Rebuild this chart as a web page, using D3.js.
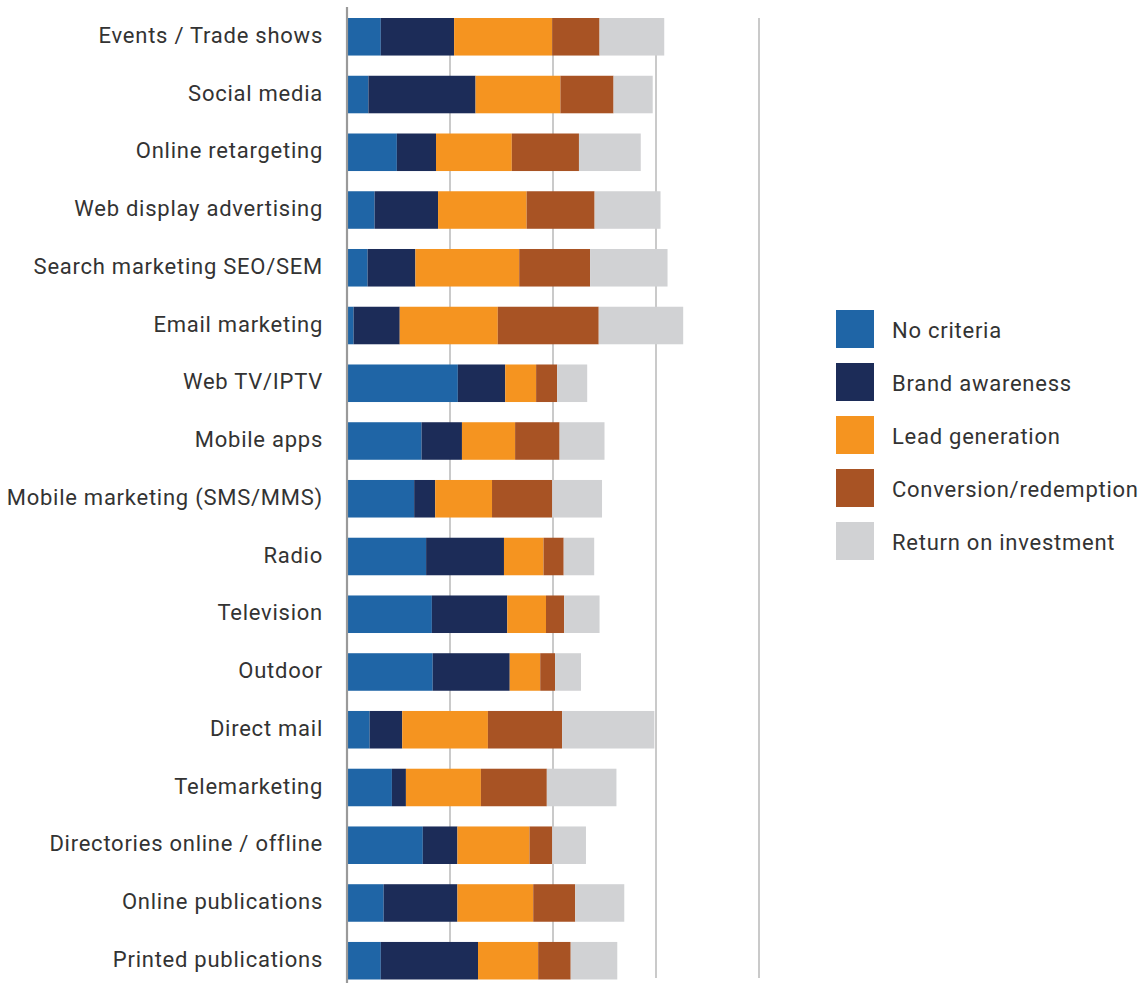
<!DOCTYPE html>
<html>
<head>
<meta charset="utf-8">
<script src="https://cdn.jsdelivr.net/npm/d3@7"></script>
<style>
  html, body { margin: 0; padding: 0; background: #fff; }
  svg text { font-family: Roboto, "DejaVu Sans", sans-serif; fill: #333; letter-spacing: 0.75px; }
</style>
</head>
<body>
<svg id="chart" width="1147" height="983"></svg>
<script>
// Marketing channels, top to bottom
const categories = [
  "Events / Trade shows",
  "Social media",
  "Online retargeting",
  "Web display advertising",
  "Search marketing SEO/SEM",
  "Email marketing",
  "Web TV/IPTV",
  "Mobile apps",
  "Mobile marketing (SMS/MMS)",
  "Radio",
  "Television",
  "Outdoor",
  "Direct mail",
  "Telemarketing",
  "Directories online / offline",
  "Online publications",
  "Printed publications"
];

const seriesNames = [
  "No criteria",
  "Brand awareness",
  "Lead generation",
  "Conversion/redemption",
  "Return on investment"
];

// One value per channel for each measurement criterion
const noCriteria     = [8.2, 5.2, 12.1, 6.7, 5.0, 1.6, 26.9, 18.1, 16.3, 19.2, 20.6, 20.8, 5.5, 10.9, 18.4, 8.9, 8.2];
const brandAwareness = [17.8, 26.0, 9.5, 15.4, 11.6, 11.2, 11.5, 9.8, 5.1, 18.9, 18.3, 18.7, 7.9, 3.4, 8.4, 17.9, 23.6];
const leadGeneration = [23.8, 20.6, 18.4, 21.5, 25.2, 23.8, 7.5, 12.9, 13.8, 9.6, 9.4, 7.4, 20.8, 18.2, 17.5, 18.4, 14.6];
const conversion     = [11.5, 12.9, 16.3, 16.5, 17.2, 24.5, 5.1, 10.8, 14.6, 4.9, 4.4, 3.6, 18.0, 16.0, 5.5, 10.2, 7.9];
const returnOnInv    = [15.7, 9.5, 15.0, 16.0, 18.8, 20.5, 7.3, 10.9, 12.1, 7.4, 8.6, 6.3, 22.4, 16.9, 8.2, 11.9, 11.3];

const gridTicks = [25, 50, 75, 100];

const colors = ["#1f65a6", "#1c2c58", "#f59420", "#a85324", "#d1d2d4"];

// Rows for the stack layout
const seriesValues = [noCriteria, brandAwareness, leadGeneration, conversion, returnOnInv];
const rows = categories.map((c, i) => {
  const r = { category: c };
  seriesNames.forEach((s, k) => { r[s] = seriesValues[k][i]; });
  return r;
});

const svg = d3.select("#chart");

const x = d3.scaleLinear().domain([0, 100]).range([347, 759]);
const y = d3.scaleBand()
  .domain(categories)
  .range([7.9, 989.6])
  .paddingInner(0.35)
  .paddingOuter(0.175);

const color = d3.scaleOrdinal().domain(seriesNames).range(colors);

// Vertical gridlines
svg.append("g")
  .selectAll("line")
  .data(gridTicks)
  .join("line")
  .attr("x1", d => x(d))
  .attr("x2", d => x(d))
  .attr("y1", 18)
  .attr("y2", 978)
  .attr("stroke", "#bdbdbd")
  .attr("stroke-width", 1.6);

// Stacked bars
const stacked = d3.stack().keys(seriesNames)(rows);

svg.append("g")
  .selectAll("g")
  .data(stacked)
  .join("g")
  .attr("fill", d => color(d.key))
  .selectAll("rect")
  .data(d => d)
  .join("rect")
  .attr("x", d => x(d[0]))
  .attr("width", d => x(d[1]) - x(d[0]))
  .attr("y", d => y(d.data.category))
  .attr("height", y.bandwidth());

// Category axis
const yAxis = svg.append("g")
  .attr("transform", `translate(${x(0)},0)`)
  .call(d3.axisLeft(y).tickSize(0).tickPadding(24));
yAxis.select(".domain")
  .attr("d", "M0,7V983")
  .attr("stroke", "#9a9a9a")
  .attr("stroke-width", 2.2);
yAxis.selectAll(".tick text")
  .attr("dy", "0.28em")
  .style("font-family", "Roboto, 'DejaVu Sans', sans-serif")
  .style("font-size", "22px")
  .style("letter-spacing", "0.75px")
  .style("fill", "#333");

// Legend
const legend = svg.append("g").attr("transform", "translate(836,310)");
const items = legend.selectAll("g")
  .data(seriesNames)
  .join("g")
  .attr("transform", (d, i) => `translate(0,${i * 53})`);
items.append("rect")
  .attr("width", 38)
  .attr("height", 38)
  .attr("fill", d => color(d));
items.append("text")
  .attr("x", 56)
  .attr("y", 20)
  .attr("dy", "0.35em")
  .style("font-size", "22px")
  .text(d => d);
</script>
</body>
</html>
